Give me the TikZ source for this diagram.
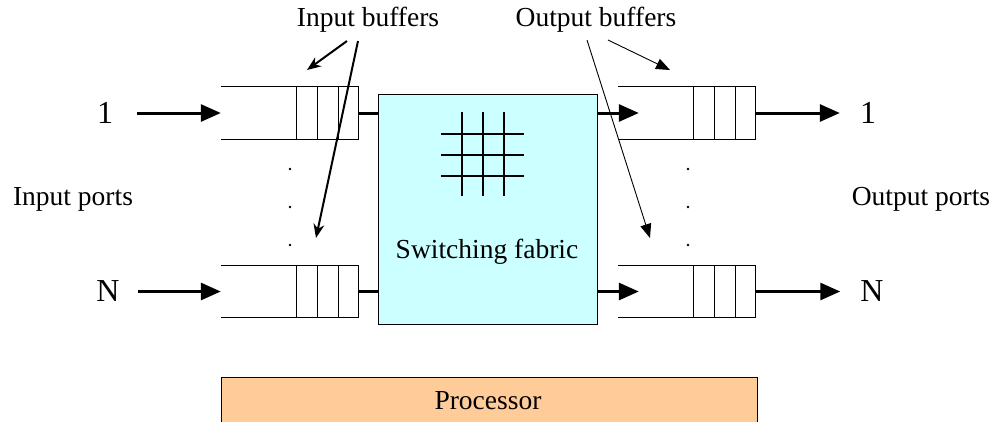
\documentclass[tikz,border=0pt]{standalone}
\usepackage{fontspec}
\setmainfont{Liberation Serif}
\usetikzlibrary{arrows.meta}
\definecolor{fabcyan}{HTML}{CCFFFF}
\definecolor{procorange}{HTML}{FFCC99}
\tikzset{
  lbl/.style={font=\fontsize{27.5}{33}\selectfont, inner sep=0pt},
  portlbl/.style={font=\fontsize{32}{38}\selectfont, inner sep=0pt},
  bufbox/.style={draw=none, minimum width=137pt, minimum height=52pt, inner sep=0pt},
  bufline/.style={line width=1pt},
  thickarrow/.style={line width=3pt, -{Triangle[length=20pt,width=17pt]}},
  thickline/.style={line width=3pt},
  calloutA/.style={line width=2pt, -{Stealth[length=14pt,width=11pt]}},
  calloutB/.style={line width=0.9pt, -{Triangle[length=14pt,width=11pt]}},
  gridline/.style={line width=1.5pt},
}
\begin{document}
\begin{tikzpicture}[x=1pt,y=-1pt]
\useasboundingbox (0,0) rectangle (994,421);
% switching fabric
\node[draw, line width=1pt, fill=fabcyan, minimum width=219pt, minimum height=230pt, inner sep=0pt] (fab) at (487.5,209) {};
\node[lbl] (fablbl) at (487,252) {Switching fabric};
\foreach \gx in {462,483,504} \draw[gridline] (\gx,112) -- (\gx,196);
\foreach \gy in {134,155,176} \draw[gridline] (441,\gy) -- (524,\gy);
% processor
\node[draw, line width=1pt, fill=procorange, minimum width=536pt, minimum height=48pt, inner sep=0pt] (proc) at (489,401) {};
\node[lbl] (proclbl) at (488,401) {Processor};
% buffers
\node[bufbox] (ib1) at (289.5,113) {};
\node[bufbox] (ibN) at (289.5,291.5) {};
\node[bufbox] (ob1) at (686.5,113) {};
\node[bufbox] (obN) at (686.5,291.5) {};
\foreach \b in {ib1,ibN,ob1,obN}{
  \draw[bufline] (\b.north west) -- (\b.north east) -- (\b.south east) -- (\b.south west);
  \foreach \d in {62,41,20}
    \draw[bufline] ([xshift=-\d pt]\b.north east) -- ([xshift=-\d pt]\b.south east);
}
% port labels
\node[portlbl] (in1) at (105,113) {1};
\node[portlbl] (inN) at (108,291.5) {N};
\node[portlbl] (out1) at (868,113) {1};
\node[portlbl] (outN) at (872,291.5) {N};
\node[lbl] (inports) at (73,199) {Input ports};
\node[lbl] (outports) at (921,199) {Output ports};
% input arrows
\draw[thickarrow] ([xshift=24pt]in1.east |- ib1.west) -- (ib1.west);
\draw[thickarrow] ([xshift=18pt]inN.east |- ibN.west) -- (ibN.west);
% buffer to fabric
\draw[thickline] (ib1.east) -- (ib1.east -| fab.west);
\draw[thickline] (ibN.east) -- (ibN.east -| fab.west);
% fabric to output buffers
\draw[thickarrow] (ob1.west -| fab.east) -- ([xshift=21pt]ob1.west);
\draw[thickarrow] (obN.west -| fab.east) -- ([xshift=21pt]obN.west);
% output arrows
\draw[thickarrow] (ob1.east) -- ([xshift=-20pt]out1.west |- ob1.east);
\draw[thickarrow] (obN.east) -- ([xshift=-20pt]outN.west |- obN.east);
% dots
\foreach \dy in {169,207,245}{
  \fill (290,\dy) circle (1.3pt);
  \fill (688,\dy) circle (1.3pt);
}
% callouts
\node[lbl] (inbuf) at (368,20) {Input buffers};
\node[lbl] (outbuf) at (596,20) {Output buffers};
\coordinate (ia1) at (307,70);
\coordinate (ia2) at (316,238);
\coordinate (oa1) at (670,70);
\coordinate (oa2) at (650,238);
\draw[calloutA] (347,41) -- (ia1);
\draw[calloutA] (358,41) -- (ia2);
\draw[calloutB] (608,40) -- (oa1);
\draw[calloutB] (587,40) -- (oa2);
\end{tikzpicture}
\end{document}
